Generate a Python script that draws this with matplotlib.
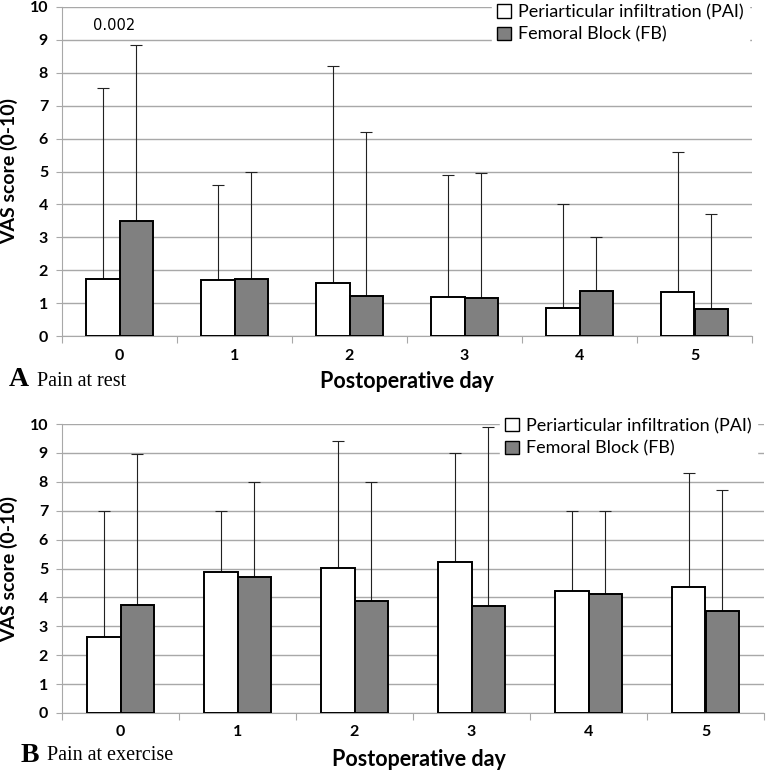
import matplotlib
matplotlib.use('Agg')
import matplotlib.pyplot as plt
import numpy as np
from matplotlib.patches import Patch

# data
days = ['0', '1', '2', '3', '4', '5']
series_names = ['Periarticular infiltration (PAI)', 'Femoral Block (FB)']

# A: pain at rest
rest_pai = [1.72, 1.70, 1.62, 1.20, 0.84, 1.34]
rest_fb = [3.50, 1.72, 1.22, 1.15, 1.38, 0.83]
rest_pai_max = [7.55, 4.60, 8.20, 4.90, 4.00, 5.60]
rest_fb_max = [8.85, 5.00, 6.20, 4.95, 3.00, 3.70]

# B: pain at exercise
ex_pai = [2.63, 4.89, 5.03, 5.24, 4.22, 4.37]
ex_fb = [3.74, 4.72, 3.88, 3.69, 4.11, 3.52]
ex_pai_max = [7.00, 7.00, 9.40, 9.00, 7.00, 8.30]
ex_fb_max = [8.95, 8.00, 8.00, 9.90, 7.00, 7.70]

pvalue_text = '0.002'

plt.rcParams['font.family'] = ['Lato', 'DejaVu Sans']

fig = plt.figure(figsize=(7.67, 7.71), dpi=100)
W, H = 767, 771

def panel(rect, pai, fb, pai_max, fb_max, leg_anchor):
    left, top, right, bottom = rect
    ax = fig.add_axes([left / W, 1 - bottom / H, (right - left) / W, (bottom - top) / H])
    x = np.arange(len(days))
    w = 0.287
    grey = '#a8a8a8'
    ax.set_axisbelow(True)
    ax.yaxis.grid(True, color=grey, linewidth=1.0)
    for xs, vals, tops, col in [(x - w / 2, pai, pai_max, 'white'),
                                (x + w / 2, fb, fb_max, '#808080')]:
        vals = np.array(vals)
        up = np.array(tops) - vals
        ax.errorbar(xs, vals, yerr=[np.zeros_like(up), up], fmt='none',
                    ecolor='#222222', elinewidth=0.8, capsize=4, capthick=0.8, zorder=2)
        ax.bar(xs, vals, width=w, color=col, edgecolor='black', linewidth=1.4, zorder=3)
    ax.set_xlim(-0.5, len(days) - 0.5)
    ax.set_ylim(0, 10)
    ax.set_yticks(range(0, 11))
    ax.set_xticks(np.arange(-0.5, len(days)), minor=False)
    ax.set_xticklabels([])
    ax.set_xticks(x, minor=True)
    ax.set_xticklabels(days, minor=True, fontweight='bold', fontsize=11.5)
    ax.tick_params(axis='x', which='major', length=5, color=grey, direction='out')
    ax.tick_params(axis='x', which='minor', length=0, pad=9)
    ax.tick_params(axis='y', length=4, color=grey, pad=6, labelsize=11.5)
    for lab in ax.get_yticklabels():
        lab.set_fontweight('bold')
    for s in ['top', 'right']:
        ax.spines[s].set_visible(False)
    ax.spines['left'].set_color(grey)
    ax.spines['bottom'].set_color(grey)
    ax.set_ylabel('VAS score (0-10)', fontweight='bold', fontsize=14, labelpad=8)
    handles = [Patch(facecolor='white', edgecolor='black', linewidth=1.0),
               Patch(facecolor='#808080', edgecolor='black', linewidth=1.0)]
    leg = ax.legend(handles, series_names, loc='upper left', bbox_to_anchor=leg_anchor,
                    fontsize=13, frameon=True, fancybox=False, framealpha=1,
                    handlelength=0.75, handleheight=0.75, handletextpad=0.4,
                    labelspacing=0.35, borderpad=0.3, borderaxespad=0)
    leg.get_frame().set_edgecolor('white')
    leg.set_zorder(5)
    return ax

ax1 = panel((62, 7, 752, 336), rest_pai, rest_fb, rest_pai_max, rest_fb_max, (0.623, 1.025))
ax1.text(-0.05, 9.45, pvalue_text, ha='center', va='center', fontsize=10.5,
         family='DejaVu Sans')

ax2 = panel((62, 424, 764, 713), ex_pai, ex_fb, ex_pai_max, ex_fb_max, (0.624, 1.04))

# panel captions
serif = 'Liberation Serif'
fig.text(9 / W, 1 - 380 / H, 'A', fontsize=20, fontweight='bold', family=serif, va='center')
fig.text(37 / W, 1 - 381 / H, 'Pain at rest', fontsize=14.5, family=serif, va='center')
fig.text(407 / W, 1 - 381 / H, 'Postoperative day', fontsize=15.5, fontweight='bold',
         ha='center', va='center')
fig.text(21 / W, 1 - 755 / H, 'B', fontsize=20, fontweight='bold', family=serif, va='center')
fig.text(47 / W, 1 - 756 / H, 'Pain at exercise', fontsize=14.5, family=serif, va='center')
fig.text(419 / W, 1 - 759 / H, 'Postoperative day', fontsize=15.5, fontweight='bold',
         ha='center', va='center')

fig.savefig('out.png', dpi=100)
